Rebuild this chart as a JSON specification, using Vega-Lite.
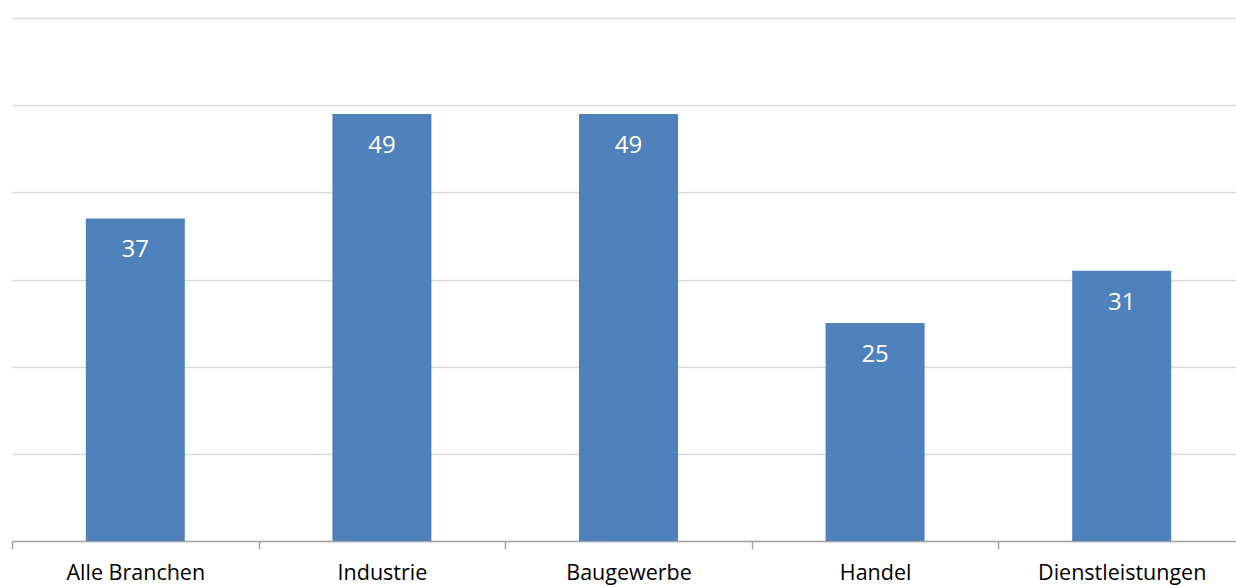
{
  "$schema": "https://vega.github.io/schema/vega-lite/v6.json",
  "width": 1233,
  "height": 523,
  "autosize": {"type": "none"},
  "padding": {"left": 12, "top": 18, "right": 0, "bottom": 46},
  "background": "white",
  "config": {"view": {"stroke": null}, "font": "Open Sans"},
  "data": {"values": [
    {"Branche": "Alle Branchen", "Wert": 37},
    {"Branche": "Industrie", "Wert": 49},
    {"Branche": "Baugewerbe", "Wert": 49},
    {"Branche": "Handel", "Wert": 25},
    {"Branche": "Dienstleistungen", "Wert": 31}
  ]},
  "encoding": {
    "x": {"field": "Branche", "type": "nominal", "sort": null,
      "scale": {"paddingInner": 0, "paddingOuter": 0},
      "axis": {"title": null, "labelAngle": 0, "labelFontSize": 21.5, "labelColor": "#000000", "labelPadding": 13, "domainColor": "#a6a6a6", "domainWidth": 1.5, "tickColor": "#a6a6a6", "tickSize": 8, "tickWidth": 1.5, "tickBand": "extent", "labelFont": "Open Sans"}},
    "y": {"field": "Wert", "type": "quantitative",
      "scale": {"domain": [0, 60], "nice": false},
      "axis": {"title": null, "labels": false, "ticks": false, "domain": false, "values": [0, 10, 20, 30, 40, 50, 60], "gridColor": "#d9d9d9", "gridWidth": 1.5}}
  },
  "layer": [
    {"mark": {"type": "bar", "size": 99, "color": "#4F81BD"}},
    {"mark": {"type": "text", "baseline": "middle", "dy": 32, "color": "white", "fontSize": 24, "font": "Open Sans"},
     "encoding": {"text": {"field": "Wert", "type": "quantitative"}}}
  ]
}
